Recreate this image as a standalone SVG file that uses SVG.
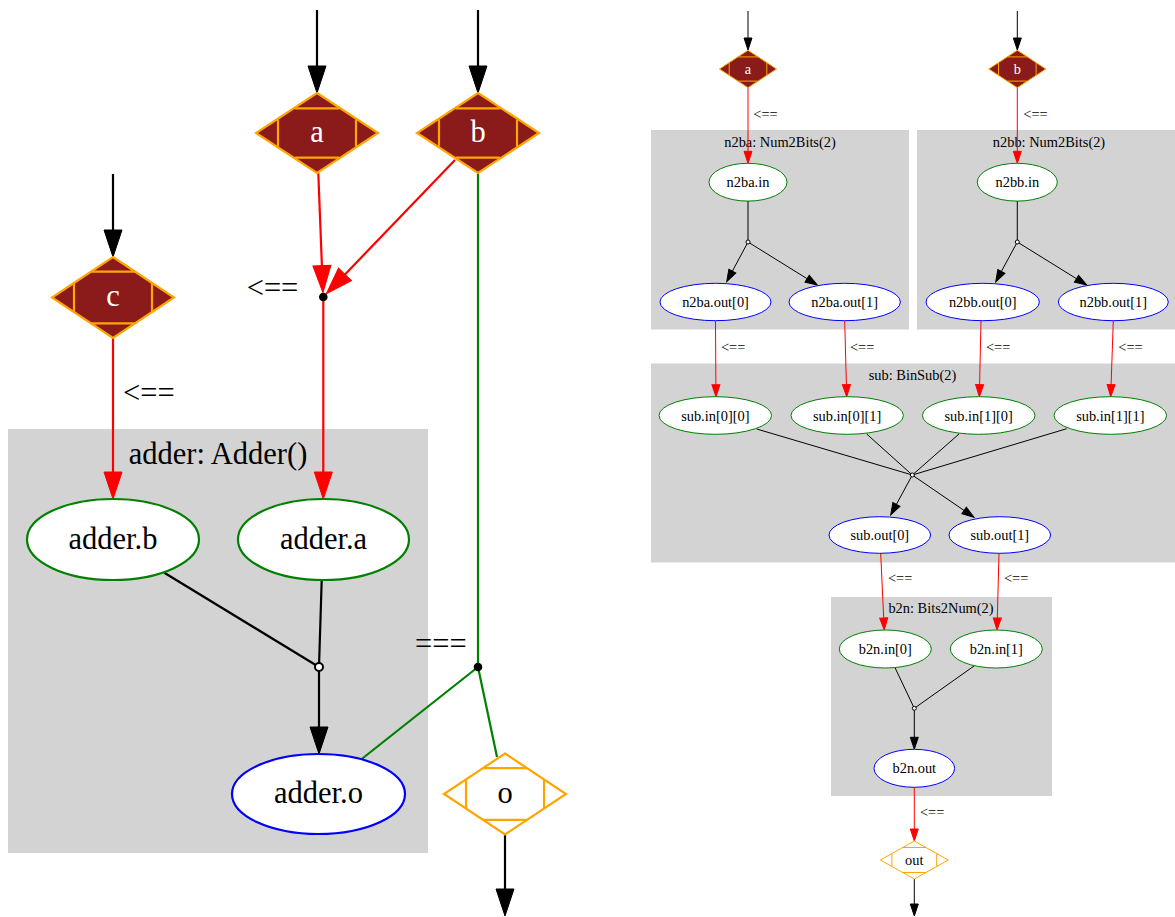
<svg xmlns="http://www.w3.org/2000/svg" width="1175" height="917" viewBox="0 0 1175 917">
<style>
text{font-family:"Liberation Serif","Times New Roman",serif;fill:#000}
.L{font-size:30.5px}
.S{font-size:14.4px}
.m{text-anchor:middle}
.w{fill:#fff}
.cl{fill:#d3d3d3;stroke:none}
.eL{fill:#fff;stroke-width:2.2}
.eS{fill:#fff;stroke-width:1}
.g{stroke:#008000}
.b{stroke:#0000ff}
.dmL{fill:#8b1a1a;stroke:#ffa500;stroke-width:2.2}
.dmS{fill:#8b1a1a;stroke:#ffa500;stroke-width:1}
.dwL{fill:#fff;stroke:#ffa500;stroke-width:2.2}
.dwS{fill:#fff;stroke:#ffa500;stroke-width:1}
.cutL{stroke:#ffa500;stroke-width:2.2;fill:none}
.cutS{stroke:#ffa500;stroke-width:1;fill:none}
.kL{stroke:#000;stroke-width:2.2;fill:none}
.rL{stroke:#ff0000;stroke-width:2.2;fill:none}
.gL{stroke:#008000;stroke-width:2.2;fill:none}
.kS{stroke:#000;stroke-width:1;fill:none}
.rS{stroke:#ff0000;stroke-width:1;fill:none}
</style>
<defs>
<marker id="akL" markerUnits="userSpaceOnUse" markerWidth="30" markerHeight="20" refX="0" refY="0" orient="auto" overflow="visible"><path d="M0,-9 L27,0 L0,9 Z" fill="#000" stroke="#000" stroke-width="1"/></marker>
<marker id="arL" markerUnits="userSpaceOnUse" markerWidth="30" markerHeight="20" refX="0" refY="0" orient="auto" overflow="visible"><path d="M0,-9 L27,0 L0,9 Z" fill="#ff0000" stroke="#ff0000" stroke-width="1"/></marker>
<marker id="akS" markerUnits="userSpaceOnUse" markerWidth="14" markerHeight="10" refX="0" refY="0" orient="auto" overflow="visible"><path d="M0,-4 L12,0 L0,4 Z" fill="#000" stroke="#000" stroke-width="1"/></marker>
<marker id="arS" markerUnits="userSpaceOnUse" markerWidth="14" markerHeight="10" refX="0" refY="0" orient="auto" overflow="visible"><path d="M0,-4 L12,0 L0,4 Z" fill="#ff0000" stroke="#ff0000" stroke-width="1"/></marker>
</defs>

<!-- clusters -->
<g id="cluster_adder"><rect class="cl" x="8" y="429" width="420" height="424"/><text class="L m" x="218" y="464">adder: Adder()</text></g>
<g id="cluster_n2ba"><rect class="cl" x="651" y="130" width="258" height="199.5"/><text class="S m" x="780" y="147">n2ba: Num2Bits(2)</text></g>
<g id="cluster_n2bb"><rect class="cl" x="917" y="130" width="258" height="199.5"/><text class="S m" x="1049" y="147">n2bb: Num2Bits(2)</text></g>
<g id="cluster_sub"><rect class="cl" x="651" y="363.5" width="524" height="199"/><text class="S m" x="912.5" y="379.5">sub: BinSub(2)</text></g>
<g id="cluster_b2n"><rect class="cl" x="831" y="597" width="221" height="199"/><text class="S m" x="941" y="612.5">b2n: Bits2Num(2)</text></g>

<!-- connectors -->
<g id="connectors">
<!-- left graph -->
<line class="kL" x1="317" y1="10" x2="317" y2="66" marker-end="url(#akL)"/>
<line class="kL" x1="478" y1="10" x2="478" y2="66" marker-end="url(#akL)"/>
<line class="kL" x1="113" y1="174" x2="113" y2="230" marker-end="url(#akL)"/>
<line class="rL" x1="113" y1="338" x2="113" y2="472" marker-end="url(#arL)"/>
<line class="rL" x1="318.3" y1="173.3" x2="321.9" y2="265.7" marker-end="url(#arL)"/>
<line class="rL" x1="455" y1="160" x2="345" y2="274.4" marker-end="url(#arL)"/>
<line class="rL" x1="323.3" y1="297" x2="323.3" y2="472" marker-end="url(#arL)"/>
<line class="gL" x1="478" y1="173" x2="478" y2="667"/>
<line class="gL" x1="478" y1="667" x2="361.7" y2="759"/>
<line class="gL" x1="478" y1="667" x2="497" y2="757"/>
<line class="kL" x1="164.3" y1="572.7" x2="319" y2="667"/>
<line class="kL" x1="321.7" y1="580" x2="319" y2="667"/>
<line class="kL" x1="319" y1="671" x2="319" y2="727" marker-end="url(#akL)"/>
<line class="kL" x1="505" y1="834.5" x2="505" y2="889" marker-end="url(#akL)"/>
<circle cx="323.3" cy="297" r="4.3" fill="#000"/>
<circle cx="478" cy="667" r="4.3" fill="#000"/>
<circle cx="319" cy="667" r="4" fill="#fff" stroke="#000" stroke-width="2"/>
<text class="L" x="246.7" y="297.5">&lt;==</text>
<text class="L" x="123" y="402.5">&lt;==</text>
<text class="L" x="415" y="654">===</text>
<!-- right graph -->
<line class="kS" x1="748" y1="11" x2="748" y2="38" marker-end="url(#akS)"/>
<line class="kS" x1="1017.3" y1="11" x2="1017.3" y2="38" marker-end="url(#akS)"/>
<line class="rS" x1="748" y1="87.3" x2="748" y2="151.3" marker-end="url(#arS)"/>
<line class="rS" x1="1017.3" y1="87.3" x2="1017.3" y2="151.3" marker-end="url(#arS)"/>
<line class="kS" x1="748" y1="201" x2="748" y2="242"/>
<line class="kS" x1="748" y1="242" x2="732.4" y2="271.1" marker-end="url(#akS)"/>
<line class="kS" x1="748" y1="242" x2="807.1" y2="278.7" marker-end="url(#akS)"/>
<line class="kS" x1="1017.3" y1="201" x2="1017.3" y2="242"/>
<line class="kS" x1="1017.3" y1="242" x2="1001.4" y2="271.4" marker-end="url(#akS)"/>
<line class="kS" x1="1017.3" y1="242" x2="1076.5" y2="278.7" marker-end="url(#akS)"/>
<line class="rS" x1="715.5" y1="320.7" x2="715.9" y2="384.7" marker-end="url(#arS)"/>
<line class="rS" x1="844.7" y1="320.7" x2="846.4" y2="384.7" marker-end="url(#arS)"/>
<line class="rS" x1="981" y1="320.7" x2="979.6" y2="384.7" marker-end="url(#arS)"/>
<line class="rS" x1="1113.3" y1="320.7" x2="1111.1" y2="384.7" marker-end="url(#arS)"/>
<line class="kS" x1="756.7" y1="429" x2="912.3" y2="475"/>
<line class="kS" x1="866.7" y1="434" x2="912.3" y2="475"/>
<line class="kS" x1="959" y1="434" x2="912.3" y2="475"/>
<line class="kS" x1="1066.7" y1="428.7" x2="912.3" y2="475"/>
<line class="kS" x1="912.3" y1="475" x2="896.4" y2="504.4" marker-end="url(#akS)"/>
<line class="kS" x1="912.3" y1="475" x2="964.1" y2="510.5" marker-end="url(#akS)"/>
<line class="rS" x1="880.7" y1="553.3" x2="883.7" y2="618" marker-end="url(#arS)"/>
<line class="rS" x1="999" y1="553.3" x2="997.3" y2="618" marker-end="url(#arS)"/>
<line class="kS" x1="895" y1="667.7" x2="914.3" y2="708.3"/>
<line class="kS" x1="974" y1="666" x2="914.3" y2="708.3"/>
<line class="kS" x1="914.3" y1="708.3" x2="914.3" y2="737.3" marker-end="url(#akS)"/>
<line class="rS" x1="914.3" y1="787.3" x2="914.3" y2="829" marker-end="url(#arS)"/>
<line class="kS" x1="914.3" y1="879" x2="914.3" y2="904" marker-end="url(#akS)"/>
<circle cx="748" cy="242" r="2" fill="#fff" stroke="#000" stroke-width="1"/>
<circle cx="1017.3" cy="242" r="2" fill="#fff" stroke="#000" stroke-width="1"/>
<circle cx="912.3" cy="475" r="2" fill="#fff" stroke="#000" stroke-width="1"/>
<circle cx="914.3" cy="708.3" r="2" fill="#fff" stroke="#000" stroke-width="1"/>
<text class="S" x="753.3" y="118.5">&lt;==</text>
<text class="S" x="1023.3" y="118.5">&lt;==</text>
<text class="S" x="721" y="351.5">&lt;==</text>
<text class="S" x="850" y="351.5">&lt;==</text>
<text class="S" x="986" y="351.5">&lt;==</text>
<text class="S" x="1118.3" y="351.5">&lt;==</text>
<text class="S" x="888" y="583">&lt;==</text>
<text class="S" x="1004" y="583">&lt;==</text>
<text class="S" x="920" y="817">&lt;==</text>
</g>

<!-- left nodes -->
<g id="node_a_L">
<polygon class="dmL" points="317,93 378,133 317,173 256,133"/>
<path class="cutL" d="M295,108.4 H339 M295,157.6 H339 M278,119.6 V146.4 M356,119.6 V146.4"/>
<text class="L m w" x="317" y="141.5">a</text>
</g>
<g id="node_b_L">
<polygon class="dmL" points="478,93 539,133 478,173 417,133"/>
<path class="cutL" d="M456,108.4 H500 M456,157.6 H500 M439,119.6 V146.4 M517,119.6 V146.4"/>
<text class="L m w" x="478" y="141.5">b</text>
</g>
<g id="node_c_L">
<polygon class="dmL" points="113,257 174,297.5 113,338 52,297.5"/>
<path class="cutL" d="M91,271.6 H135 M91,323.4 H135 M74,283.1 V311.9 M152,283.1 V311.9"/>
<text class="L m w" x="113" y="305.5">c</text>
</g>
<g id="node_o_L">
<polygon class="dwL" points="505,753.5 566,794 505,834.5 444,794"/>
<path class="cutL" d="M483,768.1 H527 M483,819.9 H527 M466,779.6 V808.4 M544,779.6 V808.4"/>
<text class="L m" x="505" y="802.5">o</text>
</g>
<g id="node_adder_b"><ellipse class="eL g" cx="113" cy="539.5" rx="86" ry="40.5"/><text class="L m" x="113" y="548.5">adder.b</text></g>
<g id="node_adder_a"><ellipse class="eL g" cx="323.5" cy="539.5" rx="85.5" ry="40.5"/><text class="L m" x="323.5" y="548.5">adder.a</text></g>
<g id="node_adder_o"><ellipse class="eL b" cx="318.5" cy="794" rx="86.5" ry="40"/><text class="L m" x="318.5" y="802.5">adder.o</text></g>

<!-- right nodes -->
<g id="node_a_R">
<polygon class="dmS" points="748,50.3 776.5,69 748,87.7 719.5,69"/>
<path class="cutS" d="M738.3,56.9 H757.7 M738.3,81.1 H757.7 M729.2,62.6 V75.4 M766.8,62.6 V75.4"/>
<text class="S m w" x="748" y="74">a</text>
</g>
<g id="node_b_R">
<polygon class="dmS" points="1017.3,50.3 1045.8,69 1017.3,87.7 988.8,69"/>
<path class="cutS" d="M1007.6,56.9 H1027 M1007.6,81.1 H1027 M998.5,62.6 V75.4 M1036.1,62.6 V75.4"/>
<text class="S m w" x="1017.3" y="74">b</text>
</g>
<g id="node_out_R">
<polygon class="dwS" points="914.3,841 948.3,860 914.3,879 880.3,860"/>
<path class="cutS" d="M902.7,847.5 H925.9 M902.7,872.5 H925.9 M891.9,853.5 V866.5 M936.7,853.5 V866.5"/>
<text class="S m" x="914.3" y="865">out</text>
</g>
<g id="node_n2ba_in"><ellipse class="eS g" cx="748" cy="182.2" rx="39" ry="18.9"/><text class="S m" x="748" y="187">n2ba.in</text></g>
<g id="node_n2ba_out0"><ellipse class="eS b" cx="715.5" cy="302" rx="55.5" ry="18.7"/><text class="S m" x="715.5" y="307">n2ba.out[0]</text></g>
<g id="node_n2ba_out1"><ellipse class="eS b" cx="844.7" cy="302" rx="55.7" ry="18.7"/><text class="S m" x="844.7" y="307">n2ba.out[1]</text></g>
<g id="node_n2bb_in"><ellipse class="eS g" cx="1017.3" cy="182.2" rx="40" ry="18.9"/><text class="S m" x="1017.3" y="187">n2bb.in</text></g>
<g id="node_n2bb_out0"><ellipse class="eS b" cx="982.7" cy="302" rx="56.7" ry="18.7"/><text class="S m" x="982.7" y="307">n2bb.out[0]</text></g>
<g id="node_n2bb_out1"><ellipse class="eS b" cx="1113.3" cy="302" rx="55" ry="18.7"/><text class="S m" x="1113.3" y="307">n2bb.out[1]</text></g>
<g id="node_sub_in00"><ellipse class="eS g" cx="715.3" cy="415.5" rx="56.3" ry="18.8"/><text class="S m" x="715.3" y="420.5">sub.in[0][0]</text></g>
<g id="node_sub_in01"><ellipse class="eS g" cx="847.2" cy="415.5" rx="56.2" ry="18.8"/><text class="S m" x="847.2" y="420.5">sub.in[0][1]</text></g>
<g id="node_sub_in10"><ellipse class="eS g" cx="978.7" cy="415.5" rx="56.3" ry="18.8"/><text class="S m" x="978.7" y="420.5">sub.in[1][0]</text></g>
<g id="node_sub_in11"><ellipse class="eS g" cx="1110.3" cy="415.5" rx="56.3" ry="18.8"/><text class="S m" x="1110.3" y="420.5">sub.in[1][1]</text></g>
<g id="node_sub_out0"><ellipse class="eS b" cx="879.8" cy="535" rx="50.8" ry="18.3"/><text class="S m" x="879.8" y="540">sub.out[0]</text></g>
<g id="node_sub_out1"><ellipse class="eS b" cx="999.8" cy="535" rx="50.8" ry="18.3"/><text class="S m" x="999.8" y="540">sub.out[1]</text></g>
<g id="node_b2n_in0"><ellipse class="eS g" cx="885.3" cy="649" rx="46" ry="19"/><text class="S m" x="885.3" y="654">b2n.in[0]</text></g>
<g id="node_b2n_in1"><ellipse class="eS g" cx="996.3" cy="649" rx="46" ry="19"/><text class="S m" x="996.3" y="654">b2n.in[1]</text></g>
<g id="node_b2n_out"><ellipse class="eS b" cx="914.3" cy="768.3" rx="40.3" ry="19"/><text class="S m" x="914.3" y="773.3">b2n.out</text></g>
</svg>
